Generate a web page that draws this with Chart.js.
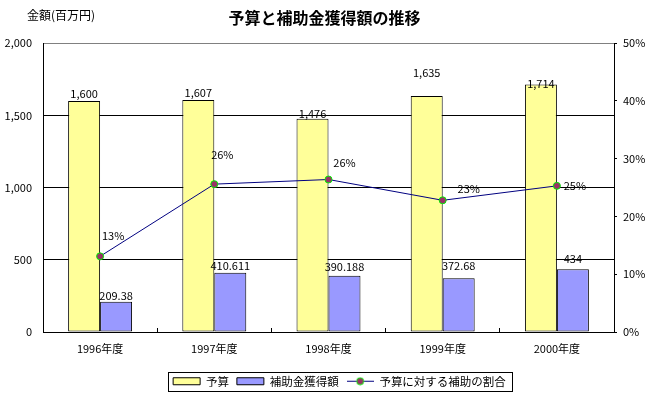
<!DOCTYPE html>
<html lang="ja">
<head>
<meta charset="utf-8">
<title>予算と補助金獲得額の推移</title>
<script src="https://cdn.jsdelivr.net/npm/chart.js@4.4.1/dist/chart.umd.min.js"></script>
<style>
  html, body { margin: 0; padding: 0; background: #fff; }
  #wrap { width: 649px; height: 397px; position: relative; }
</style>
</head>
<body>
<div id="wrap"><canvas id="chart"></canvas></div>
<script>
// 年度
const years = ['1996年度', '1997年度', '1998年度', '1999年度', '2000年度'];
// 予算（百万円）
const budget = [1600, 1607, 1476, 1635, 1714];
// 補助金獲得額（百万円）
const subsidy = [209.38, 410.611, 390.188, 372.68, 434];
// 予算に対する補助の割合（%）
const ratio = [13.1, 25.6, 26.4, 22.8, 25.3];
// 目盛り
const amountTicks = [0, 500, 1000, 1500, 2000];
const percentTicks = [0, 10, 20, 30, 40, 50];

// ラベルのずらし量（見た目の調整用）
const labelShift = [
    [[0, -7], [0, -7], [0, -5], [0, -23], [0, -1]],
    [[0, -6], [0, -7], [0, -9], [0, -12], [0, -11]],
    [[13, -21], [8, -29], [16, -17], [26, -11], [18, 0]]
];

const FONT = "'Noto Sans CJK JP', sans-serif";
Chart.defaults.font.family = FONT;
Chart.defaults.color = '#000';

// 凡例用の折れ線マーカー
const lineKey = document.createElement('canvas');
lineKey.width = 27;
lineKey.height = 9;
(() => {
    const c = lineKey.getContext('2d');
    c.strokeStyle = '#000080';
    c.lineWidth = 1;
    c.beginPath();
    c.moveTo(0, 4.5);
    c.lineTo(27, 4.5);
    c.stroke();
    c.beginPath();
    c.arc(13.5, 4.5, 3.5, 0, Math.PI * 2);
    c.fillStyle = '#993366';
    c.fill();
    c.strokeStyle = '#00ee00';
    c.stroke();
})();

// 値ラベル
const valueLabels = {
    id: 'valueLabels',
    afterDatasetsDraw(chart) {
        const ctx = chart.ctx;
        ctx.save();
        ctx.font = '11px ' + FONT;
        ctx.fillStyle = '#000';
        ctx.textAlign = 'center';
        ctx.textBaseline = 'middle';
        chart.data.datasets.forEach((ds, i) => {
            const meta = chart.getDatasetMeta(i);
            meta.data.forEach((el, j) => {
                const v = ds.data[j];
                let text;
                if (i === 0) text = v.toLocaleString('en-US');
                else if (i === 1) text = String(v);
                else text = Math.round(v) + '%';
                const [dx, dy] = labelShift[i][j];
                ctx.fillText(text, el.x + dx, el.y + dy);
            });
        });
        ctx.restore();
    }
};

// 軸タイトルと凡例の枠
const extras = {
    id: 'extras',
    afterLayout(chart) {
        chart.legend.left += 15;
        chart.legend.right += 15;
    },
    afterDraw(chart) {
        const ctx = chart.ctx;
        ctx.save();
        ctx.font = '12px ' + FONT;
        ctx.fillStyle = '#000';
        ctx.textBaseline = 'middle';
        ctx.fillText('金額(百万円)', 27, 15);

        const boxes = chart.legend.legendHitBoxes;
        if (boxes && boxes.length) {
            const l = Math.min(...boxes.map(b => b.left)) - 5;
            const r = Math.max(...boxes.map(b => b.left + b.width)) + 6;
            const cy = boxes[0].top + boxes[0].height / 2;
            ctx.strokeStyle = '#000';
            ctx.lineWidth = 1;
            ctx.strokeRect(Math.round(l) + 0.5, Math.round(cy - 9.5) + 0.5, Math.round(r - l), 19);
        }
        ctx.restore();
    }
};

new Chart(document.getElementById('chart'), {
    data: {
        labels: years,
        datasets: [
            {
                type: 'bar',
                label: '予算',
                data: budget,
                backgroundColor: '#FFFF99',
                borderColor: '#000',
                borderWidth: 1,
                borderSkipped: false,
                yAxisID: 'y',
                order: 1
            },
            {
                type: 'bar',
                label: '補助金獲得額',
                data: subsidy,
                backgroundColor: '#9999FF',
                borderColor: '#000',
                borderWidth: 1,
                borderSkipped: false,
                yAxisID: 'y',
                order: 1
            },
            {
                type: 'line',
                label: '予算に対する補助の割合',
                data: ratio,
                borderColor: '#000080',
                borderWidth: 1,
                tension: 0,
                pointRadius: 3.5,
                pointBorderWidth: 1,
                pointBackgroundColor: '#993366',
                pointBorderColor: '#00ee00',
                yAxisID: 'y1',
                order: 0
            }
        ]
    },
    options: {
        responsive: true,
        maintainAspectRatio: false,
        animation: false,
        layout: { padding: 0 },
        datasets: {
            bar: { categoryPercentage: 0.56, barPercentage: 1 }
        },
        scales: {
            x: {
                afterFit: s => { s.height = 35.5; },
                grid: {
                    drawOnChartArea: false,
                    tickLength: -4,
                    color: '#000'
                },
                border: { color: '#000' },
                ticks: { font: { size: 11 }, padding: 14 }
            },
            y: {
                position: 'left',
                min: 0,
                max: 2000,
                afterFit: s => { s.width = 43; },
                afterBuildTicks: s => { s.ticks = amountTicks.map(v => ({ value: v })); },
                grid: {
                    drawTicks: false,
                    color: ctx => ctx.tick && ctx.tick.value === 2000 ? '#808080' : '#000'
                },
                border: { color: '#000' },
                ticks: {
                    font: { size: 11 },
                    padding: 11,
                    callback: v => v.toLocaleString('en-US')
                }
            },
            y1: {
                position: 'right',
                min: 0,
                max: 50,
                afterFit: s => { s.width = 35; },
                afterBuildTicks: s => { s.ticks = percentTicks.map(v => ({ value: v })); },
                grid: {
                    drawOnChartArea: false,
                    tickLength: 3,
                    color: '#000'
                },
                border: { color: '#000' },
                ticks: {
                    font: { size: 11 },
                    padding: 6,
                    callback: v => v + '%'
                }
            }
        },
        plugins: {
            title: {
                display: true,
                text: '予算と補助金獲得額の推移',
                color: '#000',
                font: { size: 16, weight: 'bold' },
                padding: { top: 8, bottom: 16 }
            },
            legend: {
                position: 'bottom',
                labels: {
                    usePointStyle: true,
                    pointStyleWidth: 27,
                    boxHeight: 7,
                    padding: 8,
                    color: '#000',
                    font: { size: 11.5 },
                    sort: (a, b) => a.datasetIndex - b.datasetIndex,
                    generateLabels(chart) {
                        const items = Chart.defaults.plugins.legend.labels.generateLabels(chart);
                        items.forEach(item => {
                            item.pointStyle = item.datasetIndex === 2 ? lineKey : 'rect';
                            item.lineWidth = 1;
                        });
                        return items;
                    }
                }
            },
            tooltip: { enabled: false }
        }
    },
    plugins: [valueLabels, extras]
});
</script>
</body>
</html>
